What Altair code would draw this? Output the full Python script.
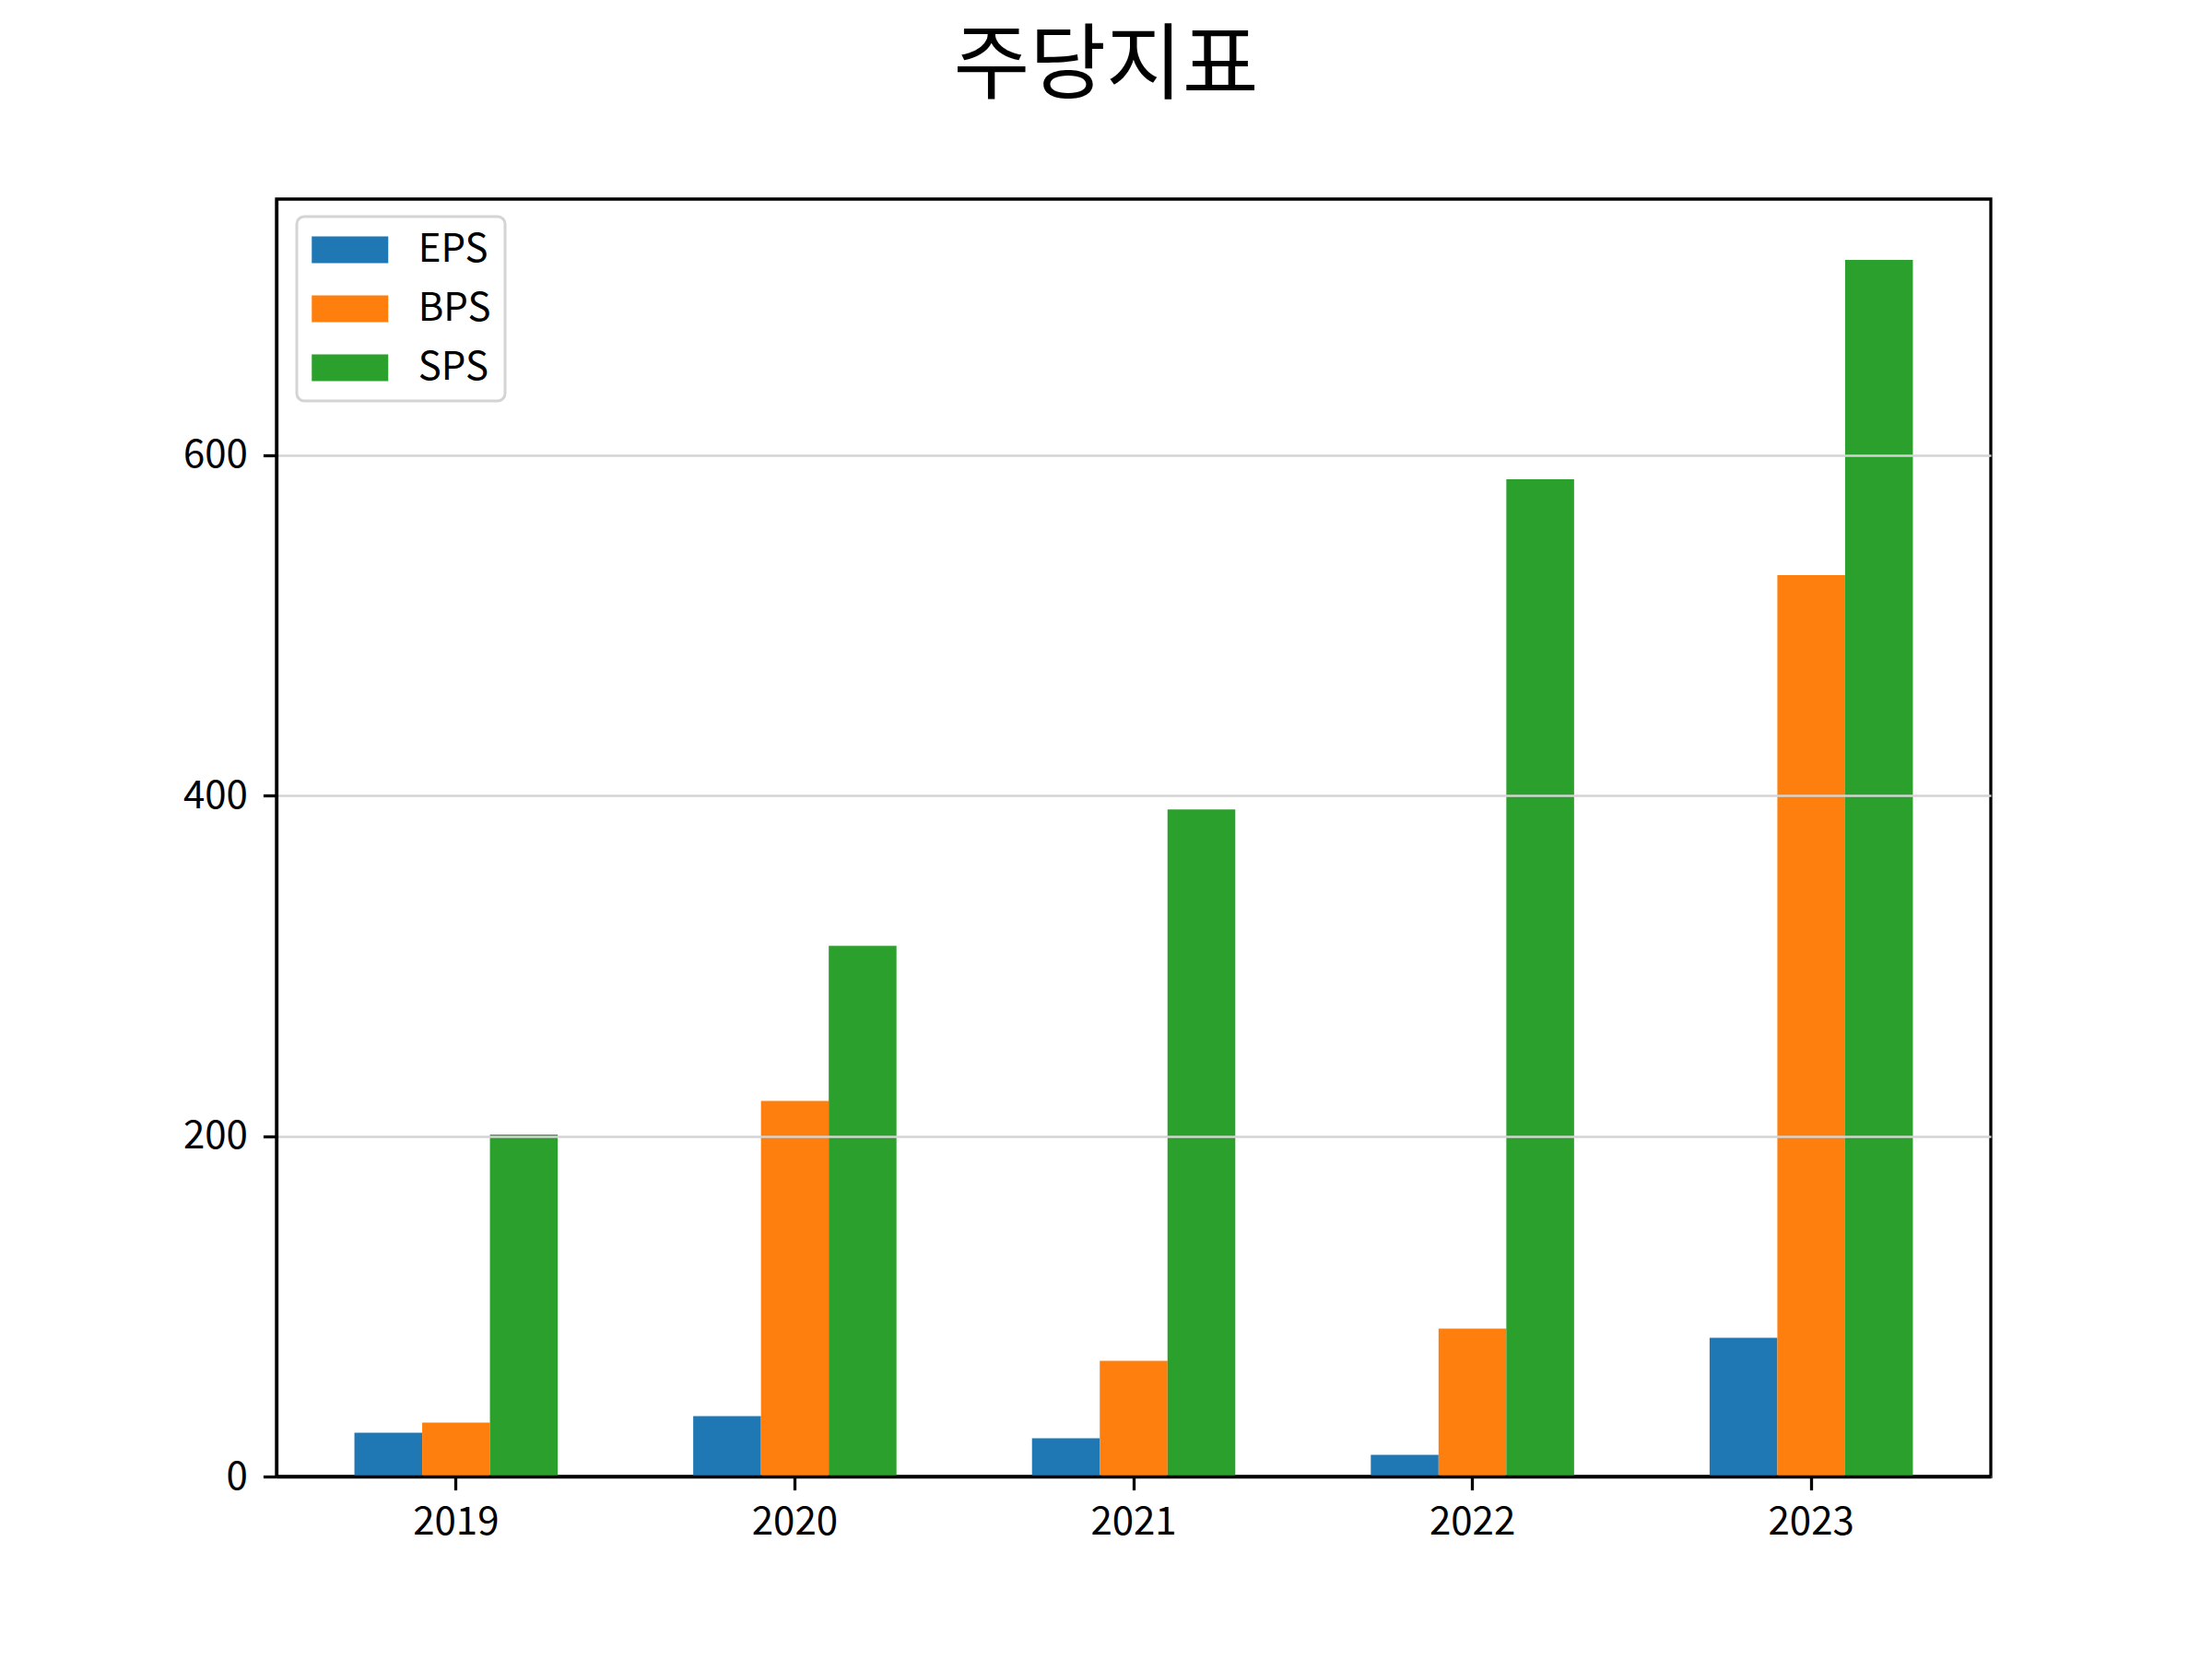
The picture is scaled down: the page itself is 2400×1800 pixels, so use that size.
import altair as alt
import pandas as pd

years = ["2019", "2020", "2021", "2022", "2023"]
series = ["EPS", "BPS", "SPS"]
eps = [25.7, 35.5, 22.5, 12.7, 81.5]
bps = [31.7, 220.6, 68.0, 86.9, 529.4]
sps = [200.8, 311.7, 391.8, 585.7, 714.6]
colors = ["#1f77b4", "#ff7f0e", "#2ca02c"]
y_ticks = [0, 200, 400, 600]
y_max = 750.3

rows = []
for name, vals in zip(series, [eps, bps, sps]):
    for y, v in zip(years, vals):
        rows.append({"year": y, "series": name, "value": v})
df = pd.DataFrame(rows)

FONT = "Noto Sans CJK KR"

chart = alt.Chart(df).mark_bar().encode(
    x=alt.X("year:N", sort=years, title=None,
            scale=alt.Scale(paddingInner=0.4, paddingOuter=0.23),
            axis=alt.Axis(labelAngle=0, labelFontSize=42, labelFont=FONT, labelColor="black",
                          domainColor="black", domainWidth=3.3, tickColor="black",
                          tickWidth=3.3, tickSize=14.6, labelPadding=15, grid=False,
                          zindex=2)),
    xOffset=alt.XOffset("series:N", sort=series,
                        scale=alt.Scale(paddingInner=0, paddingOuter=0)),
    y=alt.Y("value:Q", title=None,
            scale=alt.Scale(domain=[0, y_max], nice=False, zero=True),
            axis=alt.Axis(values=y_ticks, labelFontSize=42, labelFont=FONT, labelColor="black",
                          domainColor="black", domainWidth=3.3, tickColor="black",
                          tickWidth=3.3, tickSize=14.6, labelPadding=17,
                          grid=True, gridColor="#d3d3d3", gridWidth=2.6, zindex=1)),
    color=alt.Color("series:N", sort=series,
                    scale=alt.Scale(domain=series, range=colors),
                    legend=alt.Legend(title=None, orient="none", legendX=22, legendY=19,
                                      symbolType="M-2,-0.7H2V0.7H-2Z", symbolSize=1722,
                                      symbolStrokeWidth=0, symbolOffset=21.75,
                                      labelFontSize=42, labelFont=FONT,
                                      labelColor="black", labelOffset=53)),
).properties(
    width=1860,
    height=1386,
    background="white",
    title=alt.TitleParams("주당지표", fontSize=90, font=FONT, fontWeight="normal",
                          color="black", anchor="middle", dx=-30, offset=97),
    autosize=alt.AutoSizeParams(type="none"),
    padding={"left": 292, "top": 208, "right": 232, "bottom": 190},
).configure_view(
    stroke="black", strokeWidth=3.3
).configure_legend(
    rowPadding=22, padding=15, strokeColor="#d4d4d4", strokeWidth=3,
    cornerRadius=8, fillColor="white"
)

chart.save("out.html", embed_options={"renderer": "svg", "actions": False})
